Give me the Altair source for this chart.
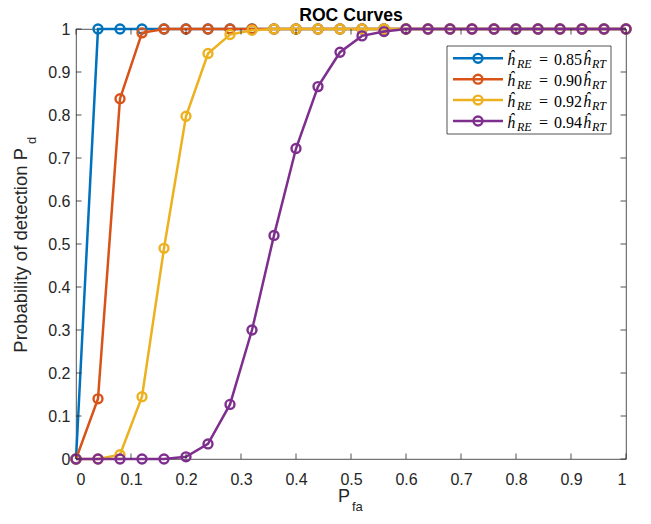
import altair as alt
import pandas as pd

# ---------------- data ----------------
pfa = [0.00, 0.04, 0.08, 0.12, 0.16, 0.20, 0.24, 0.28, 0.32, 0.36, 0.40, 0.44, 0.48,
       0.52, 0.56, 0.60, 0.64, 0.68, 0.72, 0.76, 0.80, 0.84, 0.88, 0.92, 0.96, 1.00]

pd_085 = [0.0, 1.0, 1.0, 1.0, 1.0, 1.0, 1.0, 1.0, 1.0, 1.0, 1.0, 1.0, 1.0,
          1.0, 1.0, 1.0, 1.0, 1.0, 1.0, 1.0, 1.0, 1.0, 1.0, 1.0, 1.0, 1.0]
pd_090 = [0.0, 0.14, 0.838, 0.991, 1.0, 1.0, 1.0, 1.0, 1.0, 1.0, 1.0, 1.0, 1.0,
          1.0, 1.0, 1.0, 1.0, 1.0, 1.0, 1.0, 1.0, 1.0, 1.0, 1.0, 1.0, 1.0]
pd_092 = [0.0, 0.0, 0.01, 0.145, 0.49, 0.797, 0.943, 0.987, 0.997, 1.0, 1.0, 1.0, 1.0,
          1.0, 1.0, 1.0, 1.0, 1.0, 1.0, 1.0, 1.0, 1.0, 1.0, 1.0, 1.0, 1.0]
pd_094 = [0.0, 0.0, 0.0, 0.0, 0.0, 0.005, 0.035, 0.127, 0.30, 0.52, 0.722, 0.866, 0.946,
          0.984, 0.994, 1.0, 1.0, 1.0, 1.0, 1.0, 1.0, 1.0, 1.0, 1.0, 1.0, 1.0]

series_values = [pd_085, pd_090, pd_092, pd_094]
series_labels = ["0.85", "0.90", "0.92", "0.94"]
series_colors = ["#0072BD", "#D95319", "#EDB120", "#7E2F8E"]

x_ticks = [0.0, 0.1, 0.2, 0.3, 0.4, 0.5, 0.6, 0.7, 0.8, 0.9, 1.0]
y_ticks = [0.0, 0.1, 0.2, 0.3, 0.4, 0.5, 0.6, 0.7, 0.8, 0.9, 1.0]

title_text = "ROC Curves"
xlabel_main, xlabel_sub = "P", "fa"
ylabel_main, ylabel_sub = "Probability of detection P", "d"

# ---------------- styling ----------------
W, H = 550, 430
AX = "#262626"
SANS = "Liberation Sans"
SERIF = "Liberation Serif"
TICK = 5.5
MSIZE, MSTROKE = 80, 2.4

xscale = alt.Scale(domain=[0, 1], nice=False, zero=False)
yscale = alt.Scale(domain=[0, 1], nice=False, zero=False)
xaxis = alt.Axis(values=x_ticks, format=".1~f", title=None, grid=False, ticks=False,
                 domain=False, labelPadding=12)
yaxis = alt.Axis(values=y_ticks, format=".1~f", title=None, grid=False, ticks=False,
                 domain=False, labelPadding=6)

one = pd.DataFrame({"a": [0]})
layers = []

# series lines + markers
for lab, col, ys in zip(series_labels, series_colors, series_values):
    df = pd.DataFrame({"Pfa": pfa, "Pd": ys})
    base = alt.Chart(df).encode(
        x=alt.X("Pfa:Q", scale=xscale, axis=xaxis),
        y=alt.Y("Pd:Q", scale=yscale, axis=yaxis),
    )
    layers.append(base.mark_line(color=col, strokeWidth=2.5))
    layers.append(base.mark_point(shape="circle", filled=False, color=col, size=MSIZE,
                                  strokeWidth=MSTROKE, opacity=1))

# inward ticks on all four sides
xt = pd.DataFrame({"Pfa": x_ticks})
yt = pd.DataFrame({"Pd": y_ticks})
for y0, y1 in [(H, H - TICK), (0, TICK)]:
    layers.append(alt.Chart(xt).mark_rule(color=AX, strokeWidth=0.8).encode(
        x=alt.X("Pfa:Q", scale=xscale, axis=xaxis), y=alt.value(y0), y2=alt.value(y1)))
for x0, x1 in [(0, TICK), (W, W - TICK)]:
    layers.append(alt.Chart(yt).mark_rule(color=AX, strokeWidth=0.8).encode(
        y=alt.Y("Pd:Q", scale=yscale, axis=yaxis), x=alt.value(x0), x2=alt.value(x1)))


def txt(text, x, y, size, font=SANS, weight="normal", style="normal", align="left",
        angle=0, color=AX):
    kw = dict(text=text, font=font, fontSize=size, fontWeight=weight, fontStyle=style,
              align=align, baseline="alphabetic", color=color)
    if angle:
        kw["angle"] = angle
    return alt.Chart(one).mark_text(**kw).encode(x=alt.value(x), y=alt.value(y))


# title and axis labels
layers.append(txt(title_text, W / 2, -8, 17.6, weight="bold", align="center", color="#000000"))
layers.append(txt(xlabel_main, 262, 473, 18))
layers.append(txt(xlabel_sub, 276, 482, 13))
layers.append(txt(ylabel_main, -49, 119, 18.5, align="right", angle=270))
layers.append(txt(ylabel_sub, -40, 115, 13, align="left", angle=270))

# legend box
layers.append(alt.Chart(one).mark_rect(fill="white", stroke=AX, strokeWidth=0.8).encode(
    x=alt.value(371), x2=alt.value(535), y=alt.value(17), y2=alt.value(105)))

for i, (lab, col) in enumerate(zip(series_labels, series_colors)):
    cy = 29.3 + 20.9 * i
    layers.append(alt.Chart(one).mark_rule(color=col, strokeWidth=2.5).encode(
        x=alt.value(377), x2=alt.value(427), y=alt.value(cy)))
    layers.append(alt.Chart(one).mark_point(shape="circle", filled=False, color=col, size=MSIZE,
                                            strokeWidth=MSTROKE, opacity=1).encode(
        x=alt.value(402), y=alt.value(cy)))
    bl = cy + 6.5
    layers.append(txt("ĥ", 431, bl, 16, font=SERIF, style="italic", color="#000000"))
    layers.append(txt("RE", 441, bl + 3.5, 12, font=SERIF, style="italic", color="#000000"))
    layers.append(txt("=", 463, bl, 16, font=SERIF, color="#000000"))
    layers.append(txt(lab, 478, bl, 16, font=SERIF, color="#000000"))
    layers.append(txt("ĥ", 507, bl, 16, font=SERIF, style="italic", color="#000000"))
    layers.append(txt("RT", 516, bl + 3.5, 12, font=SERIF, style="italic", color="#000000"))

chart = alt.layer(*layers).properties(
    width=W, height=H,
    autosize=alt.AutoSizeParams(type="none"),
    padding={"left": 68, "top": 21, "right": 15, "bottom": 55},
).configure_view(stroke=AX, strokeWidth=0.8).configure_axis(
    labelFont=SANS, labelFontSize=16, labelColor=AX
)

chart.save("out.html", embed_options={"renderer": "svg", "actions": False})
